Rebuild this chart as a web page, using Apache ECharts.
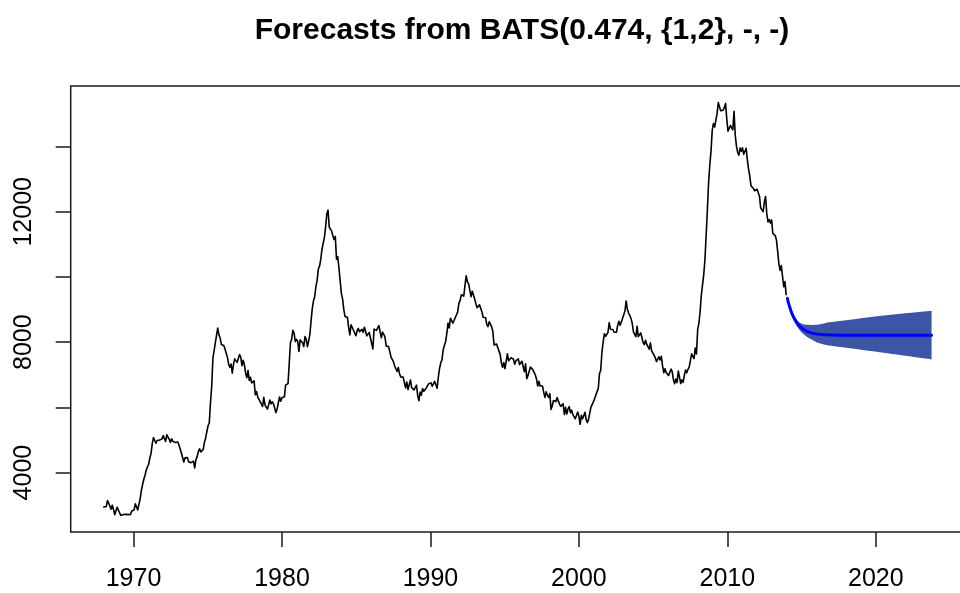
<!DOCTYPE html>
<html>
<head>
<meta charset="utf-8">
<script src="https://cdn.jsdelivr.net/npm/echarts@6/dist/echarts.min.js"></script>
<style>
  html, body { margin: 0; padding: 0; background: #ffffff; }
  #chart { width: 960px; height: 593px; }
</style>
</head>
<body>
<div id="chart"></div>
<script>
const chartTitle = 'Forecasts from BATS(0.474, {1,2}, -, -)';

// time index of the series: first observation and observations per year
const startYear = 1968;
const periodsPerYear = 12.25;

// unemployed persons (thousands), monthly observations
const unemploy = [
  2944, 2945, 2958, 3143, 3066, 3018,
  2878, 3001, 2877, 2709, 2740, 2938, 2883, 2768, 2686, 2689, 2715, 2685,
  2718, 2692, 2712, 2758, 2713, 2816, 2868, 2856, 3040, 3049, 2856, 2884,
  3201, 3453, 3635, 3797, 3919, 4071, 4175, 4256, 4456, 4591, 4898, 5076,
  4986, 4903, 4987, 4959, 4996, 4949, 5035, 5134, 5042, 4954, 5161, 5154,
  5019, 4928, 5038, 4959, 4922, 4923, 4913, 4939, 4849, 4875, 4602, 4543,
  4326, 4452, 4394, 4459, 4329, 4363, 4305, 4305, 4350, 4144, 4396, 4489,
  4644, 4731, 4634, 4618, 4705, 4927, 5063, 5022, 5437, 5523, 6140, 6636,
  7501, 7520, 7978, 8210, 8433, 8220, 8127, 7928, 7923, 7897, 7794, 7744,
  7534, 7326, 7230, 7330, 7053, 7322, 7490, 7518, 7380, 7430, 7620, 7545,
  7280, 7443, 7307, 7059, 6911, 7134, 6829, 6925, 6751, 6763, 6815, 6386,
  6489, 6318, 6337, 6180, 6127, 6028, 6309, 6080, 6125, 5947, 6077, 6228,
  6109, 6173, 6109, 6069, 5840, 5959, 5996, 6320, 6190, 6296, 6238, 6325,
  6683, 6702, 6729, 7358, 7984, 8098, 8363, 8281, 8021, 8088, 8023, 7718,
  8071, 8051, 7982, 7869, 8174, 8098, 7863, 8036, 8230, 8646, 9029, 9267,
  9397, 9705, 9895, 10244, 10335, 10538, 10849, 10881, 11217, 11529, 11938, 12051,
  11534, 11545, 11408, 11268, 11154, 11246, 10548, 10623, 10282, 9887, 9499, 9331,
  9008, 8791, 8746, 8762, 8456, 8226, 8537, 8519, 8367, 8381, 8198, 8358,
  8423, 8321, 8339, 8395, 8302, 8460, 8513, 8196, 8248, 8298, 8128, 8138,
  7795, 8402, 8383, 8364, 8439, 8508, 8319, 8135, 8310, 8243, 8159, 7883,
  7892, 7865, 7862, 7542, 7574, 7398, 7268, 7261, 7102, 7227, 7035, 6936,
  6953, 6929, 6876, 6601, 6779, 6546, 6605, 6843, 6604, 6568, 6537, 6518,
  6682, 6359, 6205, 6468, 6375, 6577, 6495, 6511, 6590, 6630, 6725, 6667,
  6752, 6651, 6598, 6797, 6742, 6590, 6922, 7188, 7368, 7459, 7764, 7901,
  8015, 8265, 8586, 8439, 8736, 8692, 8586, 8666, 8722, 8842, 8931, 9198,
  9283, 9454, 9460, 9415, 9744, 10040, 9850, 9787, 9781, 9398, 9565, 9557,
  9325, 9183, 9056, 9110, 9149, 9121, 8930, 8763, 8714, 8750, 8542, 8477,
  8630, 8583, 8470, 8331, 7915, 7927, 7946, 7933, 7734, 7632, 7375, 7230,
  7375, 7187, 7153, 7645, 7430, 7427, 7527, 7484, 7478, 7328, 7426, 7423,
  7491, 7313, 7318, 7415, 7423, 7095, 7337, 6882, 6979, 7031, 7236, 7253,
  7158, 7102, 7000, 6873, 6655, 6799, 6655, 6608, 6656, 6454, 6308, 6476,
  6368, 6306, 6422, 5941, 6047, 6212, 6259, 6179, 6300, 6280, 6100, 6032,
  5976, 6111, 5783, 6004, 5796, 5951, 6025, 5838, 5915, 5778, 5716, 5653,
  5708, 5858, 5733, 5481, 5758, 5651, 5747, 5853, 5625, 5534, 5639, 5634,
  6023, 6089, 6141, 6271, 6226, 6484, 6583, 7042, 7142, 7694, 8003, 8258,
  8182, 8215, 8304, 8599, 8399, 8393, 8390, 8304, 8251, 8307, 8520, 8640,
  8520, 8618, 8588, 8842, 8957, 9266, 9011, 8896, 8921, 8732, 8576, 8317,
  8370, 8167, 8491, 8170, 8212, 8286, 8136, 7990, 7927, 8061, 7932, 7934,
  7784, 7980, 7737, 7672, 7651, 7524, 7406, 7345, 7553, 7453, 7566, 7279,
  7064, 7184, 7072, 7120, 6980, 7001, 7175, 7091, 6847, 6727, 6872, 6762,
  7116, 6927, 6731, 6850, 6766, 6979, 7149, 7067, 7170, 7237, 7240, 7645,
  7685, 7497, 7822, 7637, 8395, 8575, 8937, 9438, 9494, 10074, 10538, 11286,
  12058, 12898, 13426, 13853, 14499, 14707, 14601, 14814, 15009, 15352, 15219, 15098,
  15046, 15113, 15202, 15325, 14849, 14474, 14512, 14648, 14579, 14516, 15081, 14348,
  14013, 13820, 13737, 13957, 13855, 13962, 13763, 13818, 13948, 13594, 13302, 13093,
  12797, 12813, 12713, 12646, 12660, 12692, 12656, 12471, 12115, 12124, 12005, 12298,
  12471, 11950, 11689, 11760, 11654, 11751, 11335, 11279, 11270, 11136, 10787, 10404,
  10202, 10349, 10380, 9702, 9859, 9460
];

// point forecasts for the next 120 periods
const fcMean = [
  9345, 9198, 9070, 8959, 8862, 8778, 8704, 8641, 8585, 8537, 8495, 8458,
  8427, 8399, 8375, 8354, 8336, 8320, 8306, 8294, 8284, 8275, 8267, 8260,
  8254, 8249, 8244, 8240, 8237, 8234, 8231, 8229, 8227, 8225, 8224, 8223,
  8222, 8221, 8220, 8219, 8218, 8217, 8217, 8217, 8216, 8216, 8216, 8215,
  8215, 8215, 8215, 8215, 8215, 8214, 8214, 8214, 8214, 8214, 8214, 8214,
  8214, 8214, 8214, 8214, 8214, 8214, 8214, 8214, 8214, 8214, 8214, 8214,
  8214, 8214, 8214, 8214, 8214, 8214, 8214, 8214, 8214, 8214, 8214, 8214,
  8214, 8214, 8214, 8214, 8214, 8214, 8214, 8214, 8214, 8214, 8214, 8214,
  8214, 8214, 8214, 8214, 8214, 8214, 8214, 8214, 8214, 8214, 8214, 8214,
  8214, 8214, 8214, 8214, 8214, 8214, 8214, 8214, 8214, 8214, 8214, 8214
];

// lower and upper limits of the prediction interval
const fcLower = [
  9320, 9163, 9025, 8904, 8797, 8704, 8621, 8549, 8484, 8427, 8377, 8332,
  8293, 8257, 8225, 8196, 8170, 8146, 8124, 8104, 8081, 8060, 8039, 8020,
  8001, 7984, 7972, 7962, 7952, 7943, 7933, 7924, 7916, 7907, 7902, 7897,
  7891, 7886, 7881, 7876, 7870, 7865, 7861, 7856, 7851, 7846, 7842, 7836,
  7832, 7827, 7823, 7818, 7814, 7808, 7804, 7799, 7794, 7789, 7784, 7779,
  7774, 7769, 7764, 7759, 7754, 7749, 7744, 7739, 7734, 7729, 7724, 7719,
  7714, 7709, 7704, 7699, 7694, 7689, 7684, 7679, 7673, 7668, 7663, 7658,
  7653, 7648, 7642, 7637, 7632, 7627, 7622, 7617, 7612, 7607, 7601, 7596,
  7591, 7586, 7581, 7576, 7571, 7566, 7560, 7555, 7550, 7545, 7540, 7534,
  7529, 7524, 7519, 7514, 7509, 7504, 7499, 7494, 7489, 7484, 7479, 7474
];
const fcUpper = [
  9370, 9236, 9120, 9019, 8932, 8856, 8789, 8732, 8681, 8637, 8607, 8584,
  8567, 8554, 8545, 8538, 8534, 8532, 8531, 8532, 8531, 8531, 8532, 8534,
  8536, 8539, 8545, 8552, 8560, 8568, 8576, 8585, 8595, 8605, 8609, 8614,
  8618, 8622, 8626, 8631, 8635, 8639, 8645, 8650, 8654, 8659, 8664, 8667,
  8672, 8677, 8681, 8686, 8691, 8695, 8699, 8704, 8709, 8714, 8719, 8724,
  8730, 8735, 8740, 8745, 8750, 8755, 8760, 8765, 8769, 8774, 8778, 8783,
  8787, 8792, 8796, 8801, 8805, 8810, 8814, 8818, 8821, 8825, 8829, 8833,
  8837, 8840, 8844, 8848, 8852, 8856, 8859, 8863, 8867, 8870, 8874, 8878,
  8881, 8885, 8888, 8892, 8896, 8899, 8903, 8907, 8910, 8914, 8918, 8921,
  8925, 8928, 8932, 8935, 8939, 8942, 8946, 8949, 8953, 8956, 8960, 8963
];

const xTicks = [1970, 1980, 1990, 2000, 2010, 2020];
const yTicks = [4000, 6000, 8000, 10000, 12000, 14000];
const yLabelValues = [4000, 8000, 12000];

// ---- series points on the time axis ----
const timeAt = i => startYear + i / periodsPerYear;
const nObs = unemploy.length;
const observedPts = unemploy.map((v, i) => [timeAt(i), v]);
const fcTimes = fcMean.map((_, k) => timeAt(nObs + k));
const meanPts = fcMean.map((v, k) => [fcTimes[k], v]);
const bandPts = fcMean.map((_, k) => [fcTimes[k], fcLower[k], fcUpper[k]]);

// axis limits: data range widened by 4% on each side
const tFirst = startYear, tLast = fcTimes[fcTimes.length - 1];
const tPad = 0.04 * (tLast - tFirst);
const vLow = Math.min(...unemploy, ...fcLower);
const vHigh = Math.max(...unemploy, ...fcUpper);
const vPad = 0.04 * (vHigh - vLow);

const fontFamily = '"Liberation Sans", Arial, Helvetica, sans-serif';
const bandColor = '#3d55a6';

const chart = echarts.init(document.getElementById('chart'), null, { renderer: 'canvas' });

chart.setOption({
  animation: false,
  backgroundColor: '#ffffff',
  title: {
    text: chartTitle,
    left: 517,
    top: 11,
    textAlign: 'center',
    textStyle: { fontFamily, fontSize: 30, fontWeight: 'bold', color: '#000000' }
  },
  grid: {
    left: 70.7,
    top: 86,
    width: 894,
    height: 446,
    show: true,
    borderColor: '#1a1a1a',
    borderWidth: 1.5,
    backgroundColor: 'transparent',
    outerBoundsMode: 'none'
  },
  xAxis: {
    type: 'value',
    min: tFirst - tPad,
    max: tLast + tPad,
    axisLine: { show: false },
    splitLine: { show: false },
    axisTick: {
      show: true,
      customValues: xTicks,
      length: 15,
      lineStyle: { color: '#1a1a1a', width: 1.5 }
    },
    axisLabel: {
      customValues: xTicks,
      margin: 35,
      fontFamily,
      fontSize: 25,
      color: '#000000',
      formatter: v => String(v)
    }
  },
  yAxis: {
    type: 'value',
    min: vLow - vPad,
    max: vHigh + vPad,
    axisLine: { show: false },
    splitLine: { show: false },
    axisTick: {
      show: true,
      customValues: yTicks,
      length: 15,
      lineStyle: { color: '#1a1a1a', width: 1.5 }
    },
    axisLabel: {
      customValues: yLabelValues,
      rotate: 90,
      margin: 34,
      fontFamily,
      fontSize: 25,
      color: '#000000',
      formatter: v => String(v)
    }
  },
  series: [
    {
      name: 'observed',
      type: 'line',
      data: observedPts,
      symbol: 'none',
      silent: true,
      lineStyle: { color: '#000000', width: 1.6, join: 'round', cap: 'round' },
      z: 3
    },
    {
      name: 'interval',
      type: 'custom',
      data: bandPts,
      encode: { x: 0, y: [1, 2] },
      silent: true,
      z: 2,
      renderItem: (params, api) => {
        if (params.dataIndex !== 0) return null;
        const upperEdge = bandPts.map(p => api.coord([p[0], p[2]]));
        const lowerEdge = bandPts.slice().reverse().map(p => api.coord([p[0], p[1]]));
        return {
          type: 'polygon',
          shape: { points: upperEdge.concat(lowerEdge) },
          style: { fill: bandColor, stroke: null }
        };
      }
    },
    {
      name: 'forecast',
      type: 'line',
      data: meanPts,
      symbol: 'none',
      silent: true,
      lineStyle: { color: '#0000ff', width: 3, join: 'round', cap: 'round' },
      z: 4
    }
  ]
});
</script>
</body>
</html>
